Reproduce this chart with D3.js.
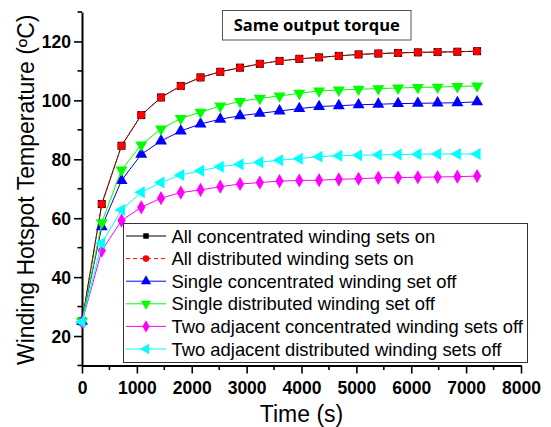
<!DOCTYPE html>
<html>
<head>
<meta charset="utf-8">
<script src="https://cdn.jsdelivr.net/npm/d3@7"></script>
<style>
  html, body { margin: 0; padding: 0; background: #fff; }
  svg { display: block; }
</style>
</head>
<body>
<svg id="chart" width="551" height="427"></svg>
<script>
// Time stamps (s) of each sample
const times = [0, 360, 720, 1080, 1440, 1800, 2160, 2520, 2880, 3240, 3600,
               3960, 4320, 4680, 5040, 5400, 5760, 6120, 6480, 6840, 7200];

// Winding hotspot temperature (°C) for each operating case
const allConcentrated = [25, 64.8, 84.6, 95.0, 101.0, 104.9, 107.8, 109.7, 111.1, 112.4, 113.4,
                         114.1, 114.6, 115.1, 115.6, 115.9, 116.1, 116.3, 116.4, 116.5, 116.7];
const allDistributed = [25, 64.8, 84.6, 95.0, 101.0, 104.9, 107.8, 109.7, 111.1, 112.4, 113.4,
                        114.1, 114.6, 115.1, 115.6, 115.9, 116.1, 116.3, 116.4, 116.5, 116.7];
const singleConcentratedOff = [25, 57.1, 72.8, 81.7, 86.2, 89.6, 92.0, 93.6, 94.8, 95.6, 96.4,
                               97.2, 97.9, 98.2, 98.5, 98.7, 98.9, 99.0, 99.1, 99.2, 99.5];
const singleDistributedOff = [25, 58.5, 76.4, 84.9, 90.3, 93.9, 96.0, 98.1, 99.6, 100.7, 101.5,
                              102.4, 103.2, 103.5, 103.8, 104.0, 104.2, 104.4, 104.5, 104.7, 104.9];
const twoAdjConcentratedOff = [24.7, 49.0, 59.2, 63.7, 66.8, 68.7, 69.6, 70.7, 71.6, 72.1, 72.6,
                               72.8, 72.9, 73.2, 73.4, 73.7, 73.8, 73.9, 74.0, 74.1, 74.3];
const twoAdjDistributedOff = [24.8, 51.5, 62.8, 68.8, 72.1, 74.7, 76.1, 77.5, 78.3, 79.0, 79.7,
                              80.2, 80.9, 81.2, 81.4, 81.5, 81.6, 81.7, 81.8, 81.8, 81.8];

const seriesNames = [
  "All concentrated winding sets on",
  "All distributed winding sets on",
  "Single concentrated winding set off",
  "Single distributed winding set off",
  "Two adjacent concentrated winding sets off",
  "Two adjacent distributed winding sets off"
];

const xTicks = [0, 1000, 2000, 3000, 4000, 5000, 6000, 7000, 8000];
const yTicks = [20, 40, 60, 80, 100, 120];
const titleText = "Same output torque";
const xLabel = "Time (s)";
const yLabel = "Winding Hotspot Temperature (ºC)";

// Styling per series
const styles = [
  { color: "#000000", symbol: d3.symbolSquare,   size: 64, legendSize: 30, dash: null,  rotate: 0 },
  { color: "#ff0000", symbol: d3.symbolCircle,   size: 50, legendSize: 34, dash: "4,3", rotate: 0 },
  { color: "#0000ff", symbol: d3.symbolTriangle, size: 62, legendSize: 46, dash: null,  rotate: 0 },
  { color: "#00ff00", symbol: d3.symbolTriangle, size: 62, legendSize: 46, dash: null,  rotate: 180 },
  { color: "#ff00ff", symbol: d3.symbolDiamond,  size: 58, legendSize: 44, dash: null,  rotate: 0 },
  { color: "#00ffff", symbol: d3.symbolTriangle, size: 62, legendSize: 46, dash: null,  rotate: -90 }
];
const seriesValues = [allConcentrated, allDistributed, singleConcentratedOff,
                      singleDistributedOff, twoAdjConcentratedOff, twoAdjDistributedOff];

const svg = d3.select("#chart");
const FONT = "'Liberation Sans', Arial, sans-serif";

const x = d3.scaleLinear().domain([0, 8000]).range([82, 521]);
const y = d3.scaleLinear().domain([10, 130]).range([365.5, 12]);

// Axes
const xAxis = svg.append("g").attr("transform", `translate(0,${y(10)})`)
  .call(d3.axisBottom(x).tickValues(xTicks).tickSize(8).tickSizeOuter(0).tickFormat(d3.format("d")));
const yAxis = svg.append("g").attr("transform", `translate(${x(0)},0)`)
  .call(d3.axisLeft(y).tickValues(yTicks).tickSize(8).tickSizeOuter(0));

[xAxis, yAxis].forEach(g => {
  g.select(".domain").attr("stroke", "#000").attr("stroke-width", 2);
  g.selectAll(".tick line").attr("stroke", "#000").attr("stroke-width", 1.6);
  g.selectAll(".tick text").attr("fill", "#000")
    .style("font-family", FONT).style("font-weight", "bold").style("font-size", "17.5px");
});
xAxis.selectAll(".tick text").attr("y", 28).attr("dy", 0);
yAxis.selectAll(".tick text").attr("x", -11).attr("dy", "0.35em");

// Minor ticks
const xMinor = [500, 1500, 2500, 3500, 4500, 5500, 6500, 7500];
const yMinor = [10, 30, 50, 70, 90, 110, 130];
svg.append("g").selectAll("line").data(xMinor).join("line")
  .attr("x1", d => x(d)).attr("x2", d => x(d))
  .attr("y1", y(10)).attr("y2", y(10) + 4.5)
  .attr("stroke", "#000").attr("stroke-width", 1.6);
svg.append("g").selectAll("line").data(yMinor).join("line")
  .attr("x1", x(0) - 4.5).attr("x2", x(0))
  .attr("y1", d => y(d)).attr("y2", d => y(d))
  .attr("stroke", "#000").attr("stroke-width", 1.6);

// Axis titles
svg.append("text").attr("x", (x(0) + x(8000)) / 2).attr("y", 421.5)
  .attr("text-anchor", "middle")
  .style("font-family", FONT).style("font-size", "23px").text(xLabel);
svg.append("text")
  .attr("transform", `translate(33.5,${(y(10) + y(130)) / 2 + 1}) rotate(-90)`)
  .attr("text-anchor", "middle")
  .style("font-family", FONT).style("font-size", "23px").text(yLabel);

// Series
const line = d3.line().x((d, i) => x(times[i])).y(d => y(d));
seriesValues.forEach((vals, k) => {
  const s = styles[k];
  const g = svg.append("g");
  g.append("path").datum(vals).attr("d", line)
    .attr("fill", "none").attr("stroke", s.color).attr("stroke-width", 1)
    .attr("stroke-dasharray", s.dash);
  g.selectAll("path.mk").data(vals).join("path").attr("class", "mk")
    .attr("d", d3.symbol().type(s.symbol).size(s.size))
    .attr("transform", (d, i) => `translate(${x(times[i])},${y(d)}) rotate(${s.rotate})`)
    .attr("fill", s.color);
});

// Title box
const title = svg.append("g");
title.append("rect").attr("x", 222.5).attr("y", 10.5).attr("width", 188.5).attr("height", 29.5)
  .attr("fill", "#fff").attr("stroke", "#555").attr("stroke-width", 1);
title.append("text").attr("x", 316.8).attr("y", 31).attr("text-anchor", "middle")
  .style("font-family", "'Open Sans', Lato, sans-serif").style("font-weight", "bold")
  .style("font-size", "16.5px").text(titleText);

// Legend
const legend = svg.append("g");
legend.append("rect").attr("x", 123.5).attr("y", 223.5).attr("width", 404).attr("height", 139)
  .attr("fill", "#fff").attr("stroke", "#333").attr("stroke-width", 1);
seriesNames.forEach((name, k) => {
  const s = styles[k];
  const cy = 236 + k * 22.6;
  legend.append("line").attr("x1", 126).attr("x2", 166).attr("y1", cy).attr("y2", cy)
    .attr("stroke", s.color).attr("stroke-width", 1).attr("stroke-dasharray", s.dash);
  legend.append("path").attr("d", d3.symbol().type(s.symbol).size(s.legendSize))
    .attr("transform", `translate(146,${cy}) rotate(${s.rotate})`).attr("fill", s.color);
  legend.append("text").attr("x", 171.5).attr("y", cy + 6.5)
    .style("font-family", FONT).style("font-size", "18.4px").attr("fill", "#000").text(name);
});
</script>
</body>
</html>
